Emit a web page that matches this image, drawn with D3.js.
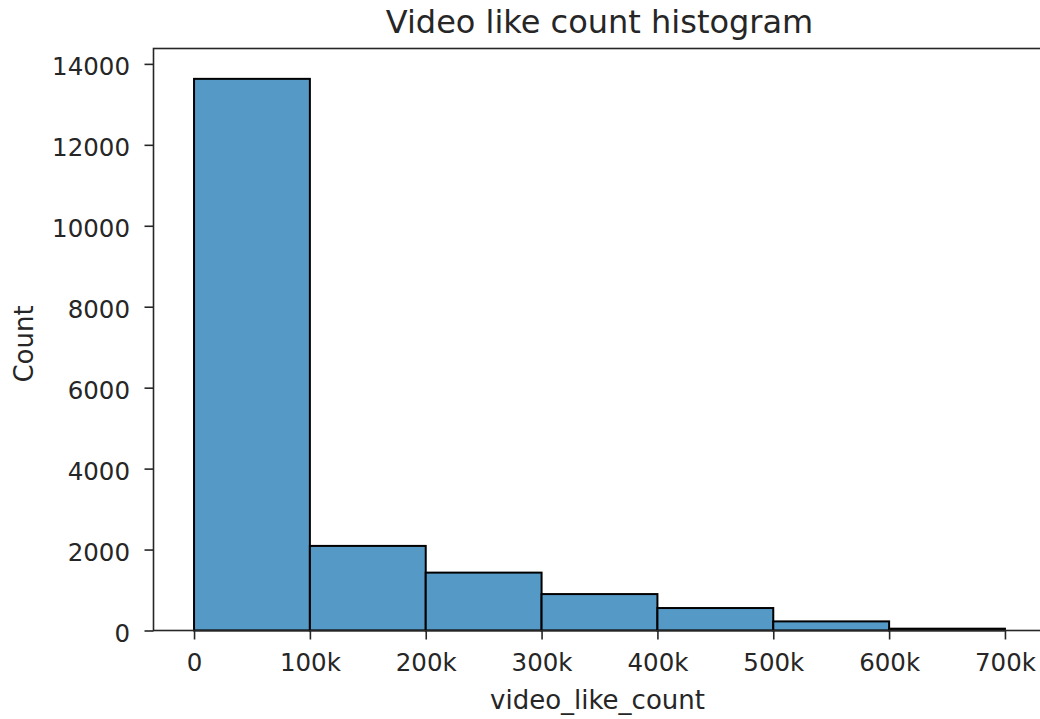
<!DOCTYPE html>
<html>
<head>
<meta charset="utf-8">
<script src="https://cdn.jsdelivr.net/npm/d3@7"></script>
<style>
  body { margin: 0; background: #fff; }
  svg { display: block; }
  text { font-family: "DejaVu Sans", sans-serif; fill: #262626; }
</style>
</head>
<body>
<svg id="chart" width="1040" height="719"></svg>
<script>
// Data
const binEdges = [0, 100000, 200000, 300000, 400000, 500000, 600000, 700000];
const counts = [13630, 2090, 1430, 900, 555, 225, 45];
const xTicks = [0, 100000, 200000, 300000, 400000, 500000, 600000, 700000];
const xTickLabels = ["0", "100k", "200k", "300k", "400k", "500k", "600k", "700k"];
const yTicks = [0, 2000, 4000, 6000, 8000, 10000, 12000, 14000];
const titleText = "Video like count histogram";
const xLabelText = "video_like_count";
const yLabelText = "Count";

(function () {
const svg = d3.select("#chart");
const mLeft = 153.5, mRight = 1045.5, mTop = 48.5, mBottom = 630.5;

const x = d3.scaleLinear().domain([-35000, 735000]).range([mLeft, mRight]);
const y = d3.scaleLinear().domain([0, 14380]).range([mBottom, mTop]);

const bins = counts.map((c, i) => ({ x0: binEdges[i], x1: binEdges[i + 1], c }));

svg.append("g").selectAll("rect").data(bins).enter().append("rect")
  .attr("x", d => x(d.x0))
  .attr("width", d => x(d.x1) - x(d.x0))
  .attr("y", d => y(d.c))
  .attr("height", d => y(0) - y(d.c))
  .attr("fill", "#5599c7")
  .attr("stroke", "#000")
  .attr("stroke-width", 2);

// axes
const xAxis = d3.axisBottom(x).tickValues(xTicks)
  .tickFormat((d, i) => xTickLabels[i]).tickSize(9).tickPadding(14);
const gx = svg.append("g").attr("transform", `translate(0,${mBottom})`).call(xAxis);
gx.select(".domain").remove();
gx.selectAll("line").attr("stroke", "#262626").attr("stroke-width", 1.6);
gx.selectAll("text").attr("font-size", 24.5).attr("fill", "#262626")
  .style("font-family", "DejaVu Sans, sans-serif");

const yAxis = d3.axisLeft(y).tickValues(yTicks).tickFormat(d3.format("d"))
  .tickSize(9).tickPadding(14.5);
const gy = svg.append("g").attr("transform", `translate(${mLeft},0)`).call(yAxis);
gy.select(".domain").remove();
gy.selectAll("line").attr("stroke", "#262626").attr("stroke-width", 1.6);
gy.selectAll("text").attr("font-size", 24.5).attr("fill", "#262626")
  .attr("dy", "0.45em")
  .style("font-family", "DejaVu Sans, sans-serif");

// spines
svg.append("rect")
  .attr("x", mLeft).attr("y", mTop)
  .attr("width", mRight - mLeft).attr("height", mBottom - mTop)
  .attr("fill", "none").attr("stroke", "#262626").attr("stroke-width", 1.6);

// title & labels
svg.append("text").attr("x", (mLeft + mRight) / 2).attr("y", 33)
  .attr("text-anchor", "middle").attr("font-size", 32).text(titleText);
svg.append("text").attr("x", (mLeft + mRight) / 2 - 2).attr("y", 709)
  .attr("text-anchor", "middle").attr("font-size", 26).text(xLabelText);
svg.append("text")
  .attr("transform", `translate(33,344) rotate(-90)`)
  .attr("text-anchor", "middle").attr("font-size", 26).text(yLabelText);
})();
</script>
</body>
</html>
